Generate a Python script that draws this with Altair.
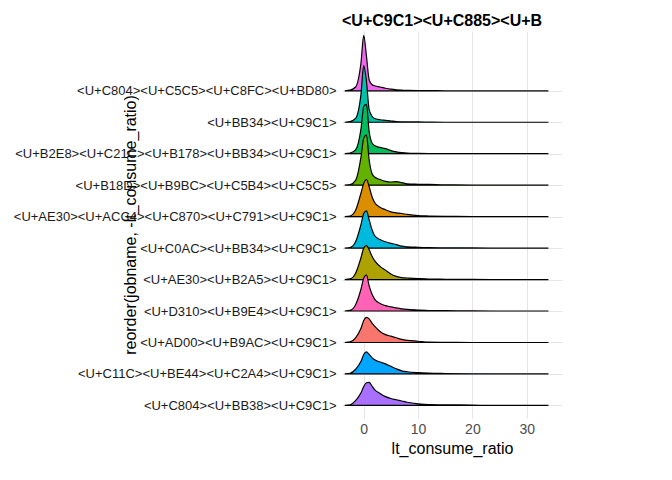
import pandas as pd
import altair as alt

# job names, top row first
jobs = [
    '<U+C804><U+C5C5><U+C8FC><U+BD80>',
    '<U+BB34><U+C9C1>',
    '<U+B2E8><U+C21C><U+B178><U+BB34><U+C9C1>',
    '<U+B18D><U+B9BC><U+C5B4><U+C5C5>',
    '<U+AE30><U+ACC4><U+C870><U+C791><U+C9C1>',
    '<U+C0AC><U+BB34><U+C9C1>',
    '<U+AE30><U+B2A5><U+C9C1>',
    '<U+D310><U+B9E4><U+C9C1>',
    '<U+AD00><U+B9AC><U+C9C1>',
    '<U+C11C><U+BE44><U+C2A4><U+C9C1>',
    '<U+C804><U+BB38><U+C9C1>',
]
colors = ['#EF67EB', '#00C1A7', '#00BD5C', '#64B200', '#DB8E00', '#00BADE',
          '#AEA200', '#FF63B6', '#F8766D', '#00A6FF', '#A970FF']

xs = [-3.5, -2.5, -1.5, -0.5, 0, 0.5, 1, 1.5, 2, 3, 4, 5, 6, 7, 8, 10, 12, 15, 20, 25, 30, 34]
# ridge heights (in row units), same order as jobs
dens = [
    [0, 0.02, 0.12, 0.9, 1.76, 1.1, 0.35, 0.2, 0.16, 0.12, 0.08, 0.05, 0.03, 0.02, 0.01, 0.005, 0.005, 0, 0, 0, 0, 0],
    [0, 0.02, 0.12, 0.9, 1.8, 1.3, 0.4, 0.2, 0.12, 0.08, 0.06, 0.04, 0.02, 0.015, 0.01, 0.01, 0.005, 0, 0, 0, 0, 0],
    [0, 0.02, 0.12, 0.8, 1.5, 1.57, 0.7, 0.35, 0.26, 0.2, 0.16, 0.1, 0.06, 0.035, 0.02, 0.01, 0.005, 0.005, 0, 0, 0, 0],
    [0, 0.02, 0.15, 0.9, 1.5, 1.6, 0.8, 0.38, 0.26, 0.18, 0.12, 0.1, 0.11, 0.08, 0.04, 0.03, 0.025, 0.01, 0.005, 0.005, 0, 0],
    [0, 0.02, 0.2, 0.75, 1.05, 1.18, 0.95, 0.65, 0.45, 0.3, 0.22, 0.15, 0.12, 0.1, 0.07, 0.03, 0.02, 0.01, 0.005, 0, 0, 0],
    [0, 0.02, 0.2, 0.75, 1.1, 1.18, 0.9, 0.6, 0.4, 0.27, 0.2, 0.15, 0.11, 0.06, 0.04, 0.025, 0.015, 0.01, 0.005, 0, 0, 0],
    [0, 0.02, 0.2, 0.7, 1.0, 1.08, 0.95, 0.75, 0.6, 0.42, 0.3, 0.18, 0.1, 0.06, 0.05, 0.03, 0.015, 0.01, 0.005, 0, 0, 0],
    [0, 0.02, 0.2, 0.7, 1.05, 1.15, 0.8, 0.55, 0.38, 0.24, 0.17, 0.13, 0.1, 0.07, 0.05, 0.03, 0.015, 0.01, 0.005, 0, 0, 0],
    [0, 0.02, 0.15, 0.45, 0.7, 0.8, 0.75, 0.62, 0.52, 0.35, 0.25, 0.2, 0.15, 0.1, 0.07, 0.04, 0.01, 0.005, 0, 0, 0, 0],
    [0, 0.02, 0.15, 0.4, 0.62, 0.7, 0.62, 0.52, 0.45, 0.38, 0.32, 0.24, 0.16, 0.1, 0.07, 0.04, 0.025, 0.015, 0.005, 0, 0, 0],
    [0, 0.02, 0.15, 0.4, 0.6, 0.72, 0.73, 0.62, 0.5, 0.38, 0.28, 0.22, 0.18, 0.14, 0.1, 0.05, 0.025, 0.02, 0.01, 0, 0, 0],
]

rows = []
n = len(jobs)
for i, (job, d) in enumerate(zip(jobs, dens)):
    base = n - i
    for x, h in zip(xs, d):
        rows.append({'job': job, 'x': x, 'y': base + h, 'y2': base, 'k': i})
df = pd.DataFrame(rows)

label_map = '{' + ','.join(f'"{n - i}":"{j}"' for i, j in enumerate(jobs)) + '}'

chart = alt.Chart(df).mark_area(
    interpolate='monotone', stroke='black', strokeWidth=1.2, fillOpacity=1
).encode(
    alt.X('x:Q', title='lt_consume_ratio', scale=alt.Scale(domain=[-4, 36.5], nice=False),
          axis=alt.Axis(values=[0, 10, 20, 30], grid=True, gridColor='#e5e5e5', domain=False, ticks=False,
                        labelFontSize=14, labelColor='#4d4d4d', titleFontSize=16, titleFontWeight='normal',
                        titleColor='black', labelPadding=4)),
    alt.Y('y:Q', title='reorder(jobname, -lt_consume_ratio)', scale=alt.Scale(domain=[0.6, 12.9], nice=False),
          axis=alt.Axis(values=list(range(1, n + 1)), labelExpr=f'{label_map}[datum.value]',
                        grid=True, gridColor='#e5e5e5', domain=False, ticks=False, labelLimit=0,
                        labelFontSize=13, labelColor='#1a1a1a', titleFontSize=16, titleFontWeight='normal',
                        titleColor='black', labelPadding=6)),
    y2='y2:Q',
    color=alt.Color('job:N', scale=alt.Scale(domain=jobs, range=colors), legend=None),
    order='k:Q',
).properties(
    width=220, height=387,
    title=alt.TitleParams('<U+C9C1><U+C885><U+B', anchor='start', frame='group', fontSize=16,
                          fontWeight='bold', font='Liberation Sans', offset=2),
).configure(font='Liberation Sans').configure_view(stroke=None)

chart.save("out.html", embed_options={"renderer": "svg", "actions": False})
